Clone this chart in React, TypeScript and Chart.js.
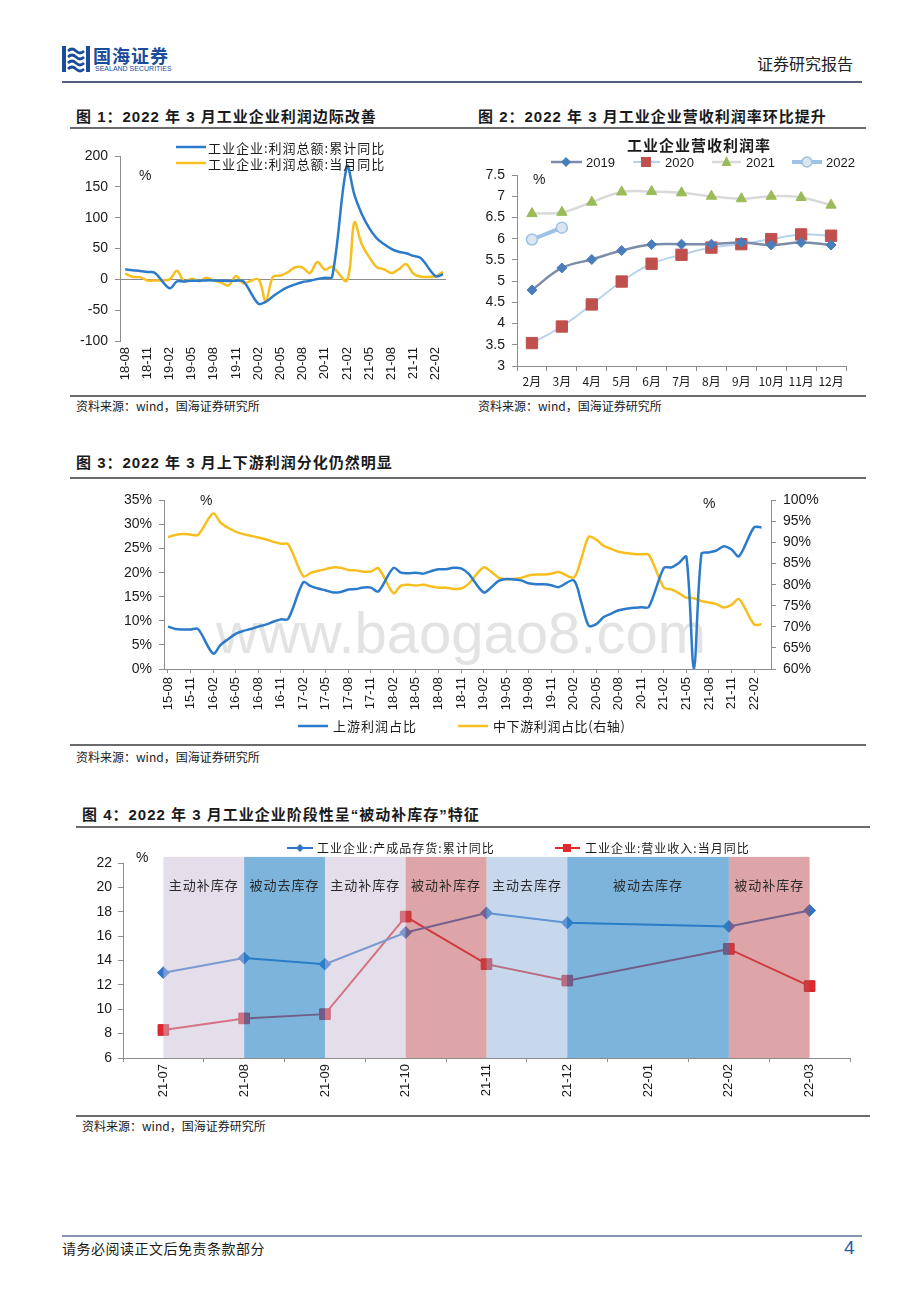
import React, { useEffect, useRef } from "react";
import { Chart, registerables } from "chart.js";
Chart.register(...registerables);

const LATIN = "'Liberation Sans', Arial, 'Noto Sans CJK SC', sans-serif";
const CJK = "'Noto Sans CJK SC', 'Liberation Sans', sans-serif";
Chart.defaults.font.family = LATIN;
Chart.defaults.color = "#1a1a1a";

// ---------------- Figure 1 data ----------------
const fig1Months = [
  "18-08", "18-09", "18-10", "18-11", "18-12",
  "19-01", "19-02", "19-03", "19-04", "19-05", "19-06", "19-07", "19-08", "19-09", "19-10", "19-11", "19-12",
  "20-01", "20-02", "20-03", "20-04", "20-05", "20-06", "20-07", "20-08", "20-09", "20-10", "20-11", "20-12",
  "21-01", "21-02", "21-03", "21-04", "21-05", "21-06", "21-07", "21-08", "21-09", "21-10", "21-11", "21-12",
  "22-01", "22-02", "22-03",
];
const fig1ProfitCumYoY = [
  16.2, 14.7, 13.6, 11.8, 10.8,
  null, -14.5, -3.3, -3.4, -2.3, -2.4, -1.7, -1.7, -2.1, -2.9, -2.1, -3.3,
  null, -39.5, -36.7, -27.4, -19.3, -12.8, -8.1, -4.4, -2.4, 0.7, 2.4, 4.1,
  null, 183.0, 137.3, 106.0, 83.4, 66.9, 57.3, 49.5, 44.7, 42.2, 38.0, 34.3,
  null, 5.0, 8.5,
];
const fig1ProfitMonthYoY = [
  9.2, 4.1, 3.6, -1.8, -1.9,
  null, 0.0, 13.9, -3.7, 1.1, -3.1, 2.6, -2.0, -5.3, -9.9, 5.4, -6.3,
  null, 0.0, -34.9, 4.4, 6.0, 11.5, 19.6, 19.1, 10.1, 28.2, 15.5, 20.1,
  null, -2.0, 92.3, 57.0, 36.4, 20.0, 16.4, 10.1, 16.3, 24.6, 9.0, 4.2,
  null, 5.0, 12.2,
];
const fig1Legend = ["工业企业:利润总额:累计同比", "工业企业:利润总额:当月同比"];

// ---------------- Figure 2 data ----------------
const fig2Months = ["2月", "3月", "4月", "5月", "6月", "7月", "8月", "9月", "10月", "11月", "12月"];
const fig2Margin2019 = [4.79, 5.31, 5.51, 5.72, 5.86, 5.87, 5.87, 5.91, 5.85, 5.91, 5.85];
const fig2Margin2020 = [3.54, 3.93, 4.45, 4.99, 5.41, 5.62, 5.79, 5.87, 5.99, 6.1, 6.07];
const fig2Margin2021 = [6.59, 6.62, 6.86, 7.1, 7.11, 7.08, 7.0, 6.94, 7.0, 6.97, 6.79];
const fig2Margin2022 = [5.98, 6.26];
const fig2Series = ["2019", "2020", "2021", "2022"];

// ---------------- Figure 3 data ----------------
const fig3Months = [
  "15-08", "15-09", "15-10", "15-11", "15-12",
  "16-01", "16-02", "16-03", "16-04", "16-05", "16-06", "16-07", "16-08", "16-09", "16-10", "16-11", "16-12",
  "17-01", "17-02", "17-03", "17-04", "17-05", "17-06", "17-07", "17-08", "17-09", "17-10", "17-11", "17-12",
  "18-01", "18-02", "18-03", "18-04", "18-05", "18-06", "18-07", "18-08", "18-09", "18-10", "18-11", "18-12",
  "19-01", "19-02", "19-03", "19-04", "19-05", "19-06", "19-07", "19-08", "19-09", "19-10", "19-11", "19-12",
  "20-01", "20-02", "20-03", "20-04", "20-05", "20-06", "20-07", "20-08", "20-09", "20-10", "20-11", "20-12",
  "21-01", "21-02", "21-03", "21-04", "21-05", "21-06", "21-07", "21-08", "21-09", "21-10", "21-11", "21-12",
  "22-01", "22-02", "22-03",
];
const fig3Upstream = [
  8.8, 8.3, 8.2, 8.2, 8.3,
  null, 3.2, 5.0, 6.2, 7.3, 7.9, 8.3, 8.8, 9.2, 9.8, 10.3, 10.4,
  null, 18.0, 17.2, 16.7, 16.3, 15.9, 16.0, 16.5, 16.6, 16.9, 16.9, 16.1,
  null, 21.0, 20.0, 19.9, 20.0, 19.8, 20.3, 20.7, 20.7, 21.0, 20.9, 19.8,
  null, 15.9, 16.9, 18.3, 18.7, 18.6, 18.4, 17.8, 17.6, 17.6, 17.4, 17.0,
  null, 18.4, 13.9, 9.0, 9.3, 10.8, 11.5, 12.2, 12.5, 12.7, 12.8, 12.9,
  null, 21.0, 21.1, 22.0, 23.3, 0.0, 23.9, 24.2, 24.6, 25.5, 24.8, 23.4,
  null, 29.4, 29.4,
];
const fig3MidDownstream = [
  91.3, 91.8, 92.0, 91.9, 91.8,
  null, 96.9, 94.7, 93.5, 92.6, 92.0, 91.6, 91.2, 90.8, 90.2, 89.7, 89.6,
  null, 82.0, 82.8, 83.3, 83.7, 84.1, 84.0, 83.5, 83.4, 83.1, 83.1, 83.9,
  null, 78.0, 79.8, 80.0, 79.8, 80.0, 79.6, 79.3, 79.3, 79.0, 79.1, 80.2,
  null, 84.1, 83.1, 81.7, 81.3, 81.4, 81.6, 82.2, 82.4, 82.4, 82.6, 83.0,
  null, 81.7, 86.1, 91.4, 90.7, 89.2, 88.5, 87.8, 87.5, 87.3, 87.2, 87.1,
  null, 79.3, 78.9, 78.0, 76.9, 76.8, 76.1, 75.8, 75.4, 74.6, 75.2, 76.6,
  null, 70.6, 70.6,
];
const fig3Legend = ["上游利润占比", "中下游利润占比(右轴)"];

// ---------------- Figure 4 data ----------------
const fig4Months = ["21-07", "21-08", "21-09", "21-10", "21-11", "21-12", "22-01", "22-02", "22-03"];
const fig4Inventory = [13.0, 14.2, 13.7, 16.3, 17.9, 17.1, null, 16.8, 18.1];
const fig4Revenue = [8.3, 9.25, 9.6, 17.6, 13.7, 12.35, null, 14.95, 11.9];
const fig4Legend = ["工业企业:产成品存货:累计同比", "工业企业:营业收入:当月同比"];
const fig4PhaseNames = ["主动补库存", "被动去库存", "主动补库存", "被动补库存", "主动去库存", "被动去库存", "被动补库存"];
const fig4PhaseFrom = ["21-07", "21-08", "21-09", "21-10", "21-11", "21-12", "22-02"];
const fig4PhaseTo = ["21-08", "21-09", "21-10", "21-11", "21-12", "22-02", "22-03"];
const fig4PhaseFill = [
  "rgba(201,189,215,0.5)",
  "rgba(38,130,197,0.6)",
  "rgba(201,189,215,0.5)",
  "rgba(189,75,81,0.5)",
  "rgba(145,177,217,0.5)",
  "rgba(38,130,197,0.6)",
  "rgba(189,75,81,0.5)",
];

// ---------------- styles ----------------
const BLUE = "#2C7BCB";
const YELLOW = "#F6BF1F";
const AXIS = "#8c8c8c";
const C2019_LINE = "#7D8CA8";
const C2019_PT = "#4A7EBB";
const C2020_LINE = "#B8D2EE";
const C2020_PT = "#C0504D";
const C2021_LINE = "#D9D9D9";
const C2021_PT = "#9BBB59";
const C2022_LINE = "#9EC2E6";
const C2022_PT = "#DCE6F2";
const INV_BLUE = "#2E74C9";
const REV_RED = "#E0282D";

const everyThird = (n: number) => Array.from({ length: Math.ceil(n / 3) }, (_, k) => k * 3);
const asPoints = (arr: (number | null)[]) => arr.map((v, i) => ({ x: i, y: v }));
const transparent = "rgba(0,0,0,0)";

function fig1Config(): any {
  return {
    type: "line",
    data: {
      datasets: [
        { label: fig1Legend[0], data: asPoints(fig1ProfitCumYoY), borderColor: BLUE, borderWidth: 2.5, pointRadius: 0, tension: 0.35, spanGaps: true },
        { label: fig1Legend[1], data: asPoints(fig1ProfitMonthYoY), borderColor: YELLOW, borderWidth: 2.5, pointRadius: 0, tension: 0.35, spanGaps: true },
      ],
    },
    options: {
      responsive: false,
      animation: false,
      layout: { padding: { top: 16, right: 14, left: 0, bottom: 0 } },
      plugins: { legend: { display: false }, tooltip: { enabled: false } },
      scales: {
        x: {
          type: "linear",
          min: -0.7,
          max: 43.4,
          afterFit: (s: any) => { s.height = 49; },
          afterBuildTicks: (s: any) => { s.ticks = everyThird(fig1Months.length).map((v) => ({ value: v })); },
          ticks: { callback: (v: any) => fig1Months[v], minRotation: 90, maxRotation: 90, autoSkip: false, padding: 6, font: { size: 13 } },
          grid: { display: false, drawTicks: false },
          border: { display: false },
        },
        y: {
          min: -100,
          max: 200,
          afterFit: (s: any) => { s.width = 50; },
          ticks: { stepSize: 50, padding: 7, font: { size: 14 } },
          grid: { color: (c: any) => (c.tick && c.tick.value === 0 ? AXIS : transparent), tickColor: AXIS, tickLength: 5 },
          border: { color: AXIS },
        },
      },
    },
  };
}

function fig2Config(): any {
  return {
    type: "line",
    data: {
      labels: fig2Months,
      datasets: [
        { label: fig2Series[0], data: fig2Margin2019, borderColor: C2019_LINE, borderWidth: 2.5, tension: 0.4, pointStyle: "rectRot", pointRadius: 5, pointBackgroundColor: C2019_PT, pointBorderColor: C2019_PT, pointBorderWidth: 1 },
        { label: fig2Series[1], data: fig2Margin2020, borderColor: C2020_LINE, borderWidth: 2, tension: 0.4, pointStyle: "rect", pointRadius: 8, pointBackgroundColor: C2020_PT, pointBorderColor: C2020_PT, pointBorderWidth: 1 },
        { label: fig2Series[2], data: fig2Margin2021, borderColor: C2021_LINE, borderWidth: 2.5, tension: 0.4, pointStyle: "triangle", pointRadius: 6, pointBackgroundColor: C2021_PT, pointBorderColor: C2021_PT, pointBorderWidth: 1 },
        { label: fig2Series[3], data: fig2Margin2022, borderColor: C2022_LINE, borderWidth: 4, tension: 0.4, pointStyle: "circle", pointRadius: 5.5, pointBackgroundColor: C2022_PT, pointBorderColor: C2022_LINE, pointBorderWidth: 1.5 },
      ],
    },
    options: {
      responsive: false,
      animation: false,
      layout: { padding: { top: 45, right: 24, left: 0, bottom: 0 } },
      plugins: { legend: { display: false }, tooltip: { enabled: false } },
      scales: {
        x: {
          offset: true,
          afterFit: (s: any) => { s.height = 24; },
          ticks: { padding: 3, font: { size: 12, family: CJK }, maxRotation: 0, autoSkip: false },
          grid: { offset: true, drawOnChartArea: false, color: AXIS, tickLength: 5 },
          border: { color: AXIS },
        },
        y: {
          min: 3,
          max: 7.5,
          afterFit: (s: any) => { s.width = 47; },
          ticks: { stepSize: 0.5, padding: 7, font: { size: 14 }, callback: (v: any) => String(v) },
          grid: { drawOnChartArea: false, color: AXIS, tickLength: 5 },
          border: { color: AXIS },
        },
      },
    },
  };
}

function fig3Config(): any {
  return {
    type: "line",
    data: {
      datasets: [
        { label: fig3Legend[0], data: asPoints(fig3Upstream), yAxisID: "y", borderColor: BLUE, borderWidth: 2.5, pointRadius: 0, tension: 0.3, spanGaps: true },
        { label: fig3Legend[1], data: asPoints(fig3MidDownstream), yAxisID: "y1", borderColor: YELLOW, borderWidth: 2.5, pointRadius: 0, tension: 0.3, spanGaps: true },
      ],
    },
    options: {
      responsive: false,
      animation: false,
      layout: { padding: { top: 14, right: 0, left: 0, bottom: 0 } },
      plugins: { legend: { display: false }, tooltip: { enabled: false } },
      scales: {
        x: {
          type: "linear",
          min: -0.53,
          max: 80.26,
          afterFit: (s: any) => { s.height = 56; },
          afterBuildTicks: (s: any) => { s.ticks = everyThird(fig3Months.length).map((v) => ({ value: v })); },
          ticks: { callback: (v: any) => fig3Months[v], minRotation: 90, maxRotation: 90, autoSkip: false, padding: 4, font: { size: 13 } },
          grid: { drawOnChartArea: false, color: AXIS, tickLength: 4 },
          border: { color: AXIS },
        },
        y: {
          position: "left",
          min: 0,
          max: 35,
          afterFit: (s: any) => { s.width = 94; },
          ticks: { stepSize: 5, padding: 7, font: { size: 14 }, callback: (v: any) => v + "%" },
          grid: { drawOnChartArea: false, color: AXIS, tickLength: 5 },
          border: { color: AXIS },
        },
        y1: {
          position: "right",
          min: 60,
          max: 100,
          afterFit: (s: any) => { s.width = 99; },
          ticks: { stepSize: 5, padding: 7, font: { size: 14 }, callback: (v: any) => v + "%" },
          grid: { drawOnChartArea: false, color: AXIS, tickLength: 5 },
          border: { color: AXIS },
        },
      },
    },
  };
}

const phasePlugin = {
  id: "phaseBands",
  afterDatasetsDraw(chart: any) {
    const { ctx, scales } = chart;
    const x = scales.x;
    const y = scales.y;
    const top = y.getPixelForValue(22.5);
    const bottom = y.getPixelForValue(6);
    const spans = fig4PhaseNames.map((_, i) => [
      x.getPixelForValue(fig4Months.indexOf(fig4PhaseFrom[i])),
      x.getPixelForValue(fig4Months.indexOf(fig4PhaseTo[i])),
    ]);
    ctx.save();
    spans.forEach(([x0, x1], i) => {
      ctx.fillStyle = fig4PhaseFill[i];
      ctx.fillRect(x0, top, x1 - x0, bottom - top);
    });
    ctx.fillStyle = "#2a2a2a";
    ctx.font = `13px ${CJK}`;
    try { (ctx as any).letterSpacing = "1px"; } catch (e) {}
    ctx.textAlign = "center";
    ctx.textBaseline = "middle";
    const ly = y.getPixelForValue(20.2);
    spans.forEach(([x0, x1], i) => {
      ctx.fillText(fig4PhaseNames[i], (x0 + x1) / 2, ly);
    });
    ctx.restore();
  },
};

function fig4Config(): any {
  return {
    type: "line",
    data: {
      labels: fig4Months,
      datasets: [
        { label: fig4Legend[0], data: fig4Inventory, borderColor: INV_BLUE, borderWidth: 2, tension: 0, spanGaps: true, pointStyle: "rectRot", pointRadius: 5, pointBackgroundColor: INV_BLUE, pointBorderColor: INV_BLUE },
        { label: fig4Legend[1], data: fig4Revenue, borderColor: REV_RED, borderWidth: 2, tension: 0, spanGaps: true, pointStyle: "rect", pointRadius: 7.5, pointBackgroundColor: REV_RED, pointBorderColor: "#c81f24", pointBorderWidth: 1 },
      ],
    },
    plugins: [phasePlugin],
    options: {
      responsive: false,
      animation: false,
      layout: { padding: { top: 23, right: 20, left: 0, bottom: 0 } },
      plugins: { legend: { display: false }, tooltip: { enabled: false } },
      scales: {
        x: {
          offset: true,
          afterFit: (s: any) => { s.height = 47; },
          ticks: { minRotation: 90, maxRotation: 90, autoSkip: false, padding: 2, font: { size: 13 } },
          grid: { offset: true, drawOnChartArea: false, color: AXIS, tickLength: 4 },
          border: { color: AXIS },
        },
        y: {
          min: 6,
          max: 22,
          afterFit: (s: any) => { s.width = 53; },
          ticks: { stepSize: 2, padding: 6, font: { size: 14 } },
          grid: { drawOnChartArea: false, color: AXIS, tickLength: 5 },
          border: { color: AXIS },
        },
      },
    },
  };
}

function ChartCanvas({ left, top, width, height, make }: { left: number; top: number; width: number; height: number; make: () => any }) {
  const ref = useRef<HTMLCanvasElement | null>(null);
  useEffect(() => {
    const chart = new Chart(ref.current as HTMLCanvasElement, make());
    return () => chart.destroy();
  }, []);
  return <canvas ref={ref} width={width} height={height} style={{ position: "absolute", left, top, width, height }} />;
}

function T({ x, y, size = 13, children, bold = false, color = "#1a1a1a", family = LATIN, spacing = 0, align = "left", w }: any) {
  const style: any = {
    position: "absolute",
    left: x,
    top: y,
    fontSize: size,
    lineHeight: 1,
    fontWeight: bold ? 700 : 400,
    color,
    fontFamily: family,
    letterSpacing: spacing,
    whiteSpace: "nowrap",
  };
  if (w !== undefined) {
    style.width = w;
    style.textAlign = align;
  }
  return <div style={style}>{children}</div>;
}

function Rule({ x1, x2, y, h = 2, color = "#666" }: any) {
  return <div style={{ position: "absolute", left: x1, top: y, width: x2 - x1, height: h, background: color }} />;
}

export default function App() {
  const titleSize = 15;
  const srcText = "资料来源：wind，国海证券研究所";
  return (
    <div style={{ position: "absolute", left: 0, top: 0, width: 920, height: 1302, background: "#fff", fontFamily: LATIN, overflow: "hidden" }}>
      {/* header */}
      <svg style={{ position: "absolute", left: 62, top: 45 }} width={28} height={28}>
        <rect x={0} y={1} width={4} height={26} fill="#1b4b9b" />
        <rect x={24} y={1} width={4} height={26} fill="#1b4b9b" />
        <path d="M6 6 q4 -4 8 0 t8 0" stroke="#1b4b9b" strokeWidth={2.6} fill="none" />
        <path d="M6 12 q4 -4 8 0 t8 0" stroke="#1b4b9b" strokeWidth={2.6} fill="none" />
        <path d="M6 18 q4 -4 8 0 t8 0" stroke="#1b4b9b" strokeWidth={2.6} fill="none" />
        <path d="M6 24 q4 -4 8 0 t8 0" stroke="#1b4b9b" strokeWidth={2.6} fill="none" />
      </svg>
      <T x={93} y={46} size={18} bold color="#1b4b9b" family={CJK} spacing={1}>国海证券</T>
      <T x={95} y={65} size={7} color="#1b4b9b">SEALAND SECURITIES</T>
      <T x={757} y={55} size={16} color="#222" family={CJK}>证券研究报告</T>
      <Rule x1={62} x2={862} y={81} h={2} color="#56607e" />

      {/* figure titles 1 & 2 */}
      <T x={76} y={109} size={titleSize} bold family={LATIN} spacing={1}>图 1：2022 年 3 月工业企业利润边际改善</T>
      <T x={478} y={109} size={titleSize} bold family={LATIN} spacing={1}>图 2：2022 年 3 月工业企业营收利润率环比提升</T>
      <Rule x1={70} x2={866} y={127} h={2} color="#6b6b6b" />

      {/* chart 1 */}
      <ChartCanvas left={70} top={140} width={390} height={250} make={fig1Config} />
      <T x={139} y={168} size={14}>%</T>
      <T x={208} y={141} size={13} family={CJK} spacing={1}>{fig1Legend[0]}</T>
      <T x={208} y={157} size={13} family={CJK} spacing={1}>{fig1Legend[1]}</T>

      {/* chart 2 */}
      <ChartCanvas left={470} top={130} width={400} height={260} make={fig2Config} />
      <T x={599} y={137} w={200} align="center" size={15} bold family={CJK} spacing={1}>工业企业营收利润率</T>
      <T x={533} y={172} size={14}>%</T>
      <T x={586} y={156} size={13}>{fig2Series[0]}</T>
      <T x={665} y={156} size={13}>{fig2Series[1]}</T>
      <T x={746} y={156} size={13}>{fig2Series[2]}</T>
      <T x={826} y={156} size={13}>{fig2Series[3]}</T>

      <Rule x1={70} x2={866} y={395} h={2} color="#6b6b6b" />
      <T x={76} y={400} size={12} family={CJK}>{srcText}</T>
      <T x={478} y={400} size={12} family={CJK}>{srcText}</T>

      {/* figure 3 */}
      <T x={76} y={455} size={titleSize} bold family={LATIN} spacing={1}>图 3：2022 年 3 月上下游利润分化仍然明显</T>
      <Rule x1={70} x2={866} y={477} h={2} color="#6b6b6b" />
      <div style={{ position: "absolute", left: 216, top: 604, fontSize: 58, lineHeight: 1, color: "#e3e3e3", fontFamily: LATIN, whiteSpace: "nowrap" }}>www.baogao8.com</div>
      <ChartCanvas left={70} top={485} width={800} height={240} make={fig3Config} />
      <T x={200} y={493} size={14}>%</T>
      <T x={703} y={496} size={14}>%</T>
      <T x={333} y={719} size={13} family={CJK} spacing={1}>{fig3Legend[0]}</T>
      <T x={493} y={719} size={13} family={CJK} spacing={0.6}>{fig3Legend[1]}</T>
      <Rule x1={70} x2={866} y={744} h={2} color="#6b6b6b" />
      <T x={76} y={751} size={12} family={CJK}>{srcText}</T>

      {/* figure 4 */}
      <T x={82} y={807} size={titleSize} bold family={LATIN} spacing={1}>图 4：2022 年 3 月工业企业阶段性呈“被动补库存”特征</T>
      <Rule x1={76} x2={870} y={826} h={2} color="#6b6b6b" />
      <ChartCanvas left={70} top={840} width={800} height={265} make={fig4Config} />
      <T x={136} y={850} size={14}>%</T>
      <T x={317} y={842} size={12} family={CJK} spacing={1}>{fig4Legend[0]}</T>
      <T x={585} y={842} size={12} family={CJK} spacing={1}>{fig4Legend[1]}</T>
      <Rule x1={76} x2={870} y={1115} h={2} color="#6b6b6b" />
      <T x={82} y={1120} size={12} family={CJK}>{srcText}</T>

      {/* footer */}
      <Rule x1={62} x2={862} y={1235} h={2} color="#8a94b3" />
      <T x={62} y={1241} size={14} family={CJK} spacing={0.5}>请务必阅读正文后免责条款部分</T>
      <T x={844} y={1238} size={19} color="#2b5aa6">4</T>

      {/* legend samples */}
      <svg width={920} height={1302} style={{ position: "absolute", left: 0, top: 0, pointerEvents: "none" }}>
        <line x1={176} x2={206} y1={147} y2={147} stroke={BLUE} strokeWidth={2.5} />
        <line x1={176} x2={206} y1={163} y2={163} stroke={YELLOW} strokeWidth={2.5} />

        <line x1={551} x2={582} y1={162} y2={162} stroke={C2019_LINE} strokeWidth={2.5} />
        <polygon points="566,157 571,162 566,167 561,162" fill={C2019_PT} />
        <line x1={633} x2={660} y1={162} y2={162} stroke={C2020_LINE} strokeWidth={2} />
        <rect x={641} y={157} width={10} height={10} fill={C2020_PT} />
        <line x1={712} x2={741} y1={162} y2={162} stroke={C2021_LINE} strokeWidth={2.5} />
        <polygon points="726.5,156 731.5,166 721.5,166" fill={C2021_PT} />
        <line x1={792} x2={822} y1={162} y2={162} stroke={C2022_LINE} strokeWidth={4} />
        <circle cx={807} cy={162} r={5} fill={C2022_PT} stroke={C2022_LINE} strokeWidth={1.5} />

        <line x1={298} x2={328} y1={726} y2={726} stroke={BLUE} strokeWidth={2.5} />
        <line x1={458} x2={488} y1={726} y2={726} stroke={YELLOW} strokeWidth={2.5} />

        <line x1={287} x2={313} y1={848} y2={848} stroke={INV_BLUE} strokeWidth={2} />
        <polygon points="300,844 304,848 300,852 296,848" fill={INV_BLUE} />
        <line x1={555} x2={580} y1={848} y2={848} stroke={REV_RED} strokeWidth={2} />
        <rect x={563} y={844} width={8} height={8} fill={REV_RED} />
      </svg>
    </div>
  );
}
